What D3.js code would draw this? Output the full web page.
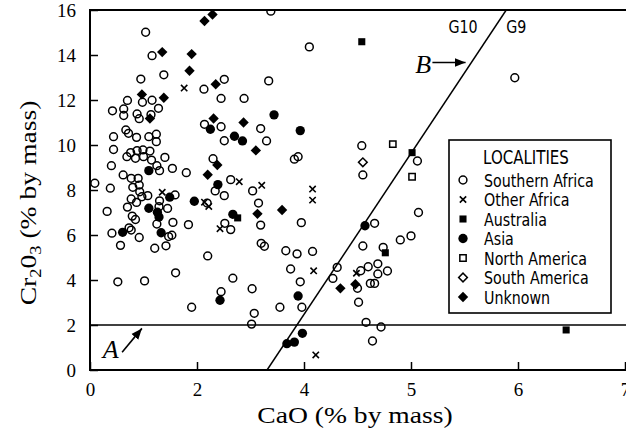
<!DOCTYPE html>
<html>
<head>
<meta charset="utf-8">
<script src="https://cdn.jsdelivr.net/npm/d3@7"></script>
<style>
  html, body { margin: 0; padding: 0; background: #fff; }
  svg { display: block; }
</style>
</head>
<body>
<svg id="chart" width="626" height="431"></svg>
<script>
// Garnet compositions: [CaO, Cr2O3] in % by mass, grouped by locality
const southernAfrica = [
  [1.04,15.01],[1.16,13.97],[1.38,13.12],[0.95,12.93],[2.13,12.48],[0.70,11.98],[1.16,11.99],
  [0.98,11.90],[1.28,11.63],[0.42,11.52],[0.63,11.60],[0.63,11.31],[0.88,11.38],[0.92,11.17],
  [1.14,11.35],[2.14,10.92],[0.67,10.67],[0.72,10.52],[0.44,10.37],[0.87,10.34],[1.10,10.37],
  [1.24,10.48],[1.24,10.15],[0.44,9.80],[0.76,9.66],[0.88,9.75],[0.99,9.78],[1.12,9.73],
  [0.69,9.48],[0.85,9.41],[1.00,9.48],[1.15,9.33],[1.40,9.45],[0.40,9.08],[1.25,9.08],
  [1.30,8.86],[1.54,8.96],[1.80,8.77],[0.62,8.67],[0.77,8.52],[0.90,8.52],[0.80,8.12],
  [0.92,8.22],[0.93,7.92],[0.09,8.30],[0.38,8.08],[1.08,7.75],[0.77,7.60],[0.97,7.70],
  [0.87,7.45],[1.30,7.52],[1.59,7.78],[1.29,7.26],[1.45,7.18],[0.70,7.24],[0.32,7.05],
  [0.79,6.84],[0.85,6.69],[1.25,6.49],[1.55,6.56],[1.84,6.46],[0.73,6.32],[0.77,6.22],
  [0.41,6.08],[0.92,5.89],[1.47,5.93],[1.53,5.99],[0.57,5.54],[1.21,5.41],[1.42,5.52],
  [2.20,5.07],[1.60,4.32],[0.52,3.92],[1.02,3.96],[1.90,2.79],[2.45,3.48],[2.67,4.08],
  [2.52,6.52],[2.63,6.24],[3.03,3.61],[3.07,2.52],[3.02,2.04],[3.15,7.42],[3.19,6.44],
  [3.20,5.63],[3.26,5.50],[3.66,5.30],[3.87,5.16],[4.08,5.27],[3.95,6.55],[3.75,4.49],
  [3.93,3.92],[3.55,2.79],[3.96,2.79],[2.45,10.81],[3.19,10.73],[2.51,10.19],[3.30,10.18],
  [2.30,9.39],[3.82,9.37],[3.89,9.48],[2.63,8.46],[2.34,7.96],[2.51,7.75],[3.04,7.96],
  [2.19,7.42],[2.51,12.92],[3.34,12.85],[2.45,12.07],[2.88,12.07],[3.38,15.95],[4.05,14.36],
  [4.55,8.67],[4.54,9.97],[5.06,9.29],[5.97,12.99],[4.66,6.52],[5.07,7.00],[4.55,5.51],
  [4.74,5.45],[4.90,5.78],[5.00,5.96],[4.31,4.56],[4.27,4.07],[4.53,4.41],[4.60,4.59],
  [4.69,4.72],[4.78,4.40],[4.69,4.27],[4.62,3.85],[4.66,3.85],[4.50,3.63],[4.51,3.01],
  [4.58,2.12],[4.72,1.91],[4.64,1.29]
];
const otherAfrica = [
  [1.76,12.53],[2.79,8.37],[3.21,8.21],[4.08,8.04],[4.08,7.55],[1.35,7.90],[2.14,7.46],
  [2.22,7.27],[2.43,6.28],[4.09,4.41],[4.11,0.67],[4.49,4.30]
];
const australia = [[4.54,14.59],[5.01,9.66],[4.76,5.21],[6.45,1.78],[2.76,6.76]];
const asia = [
  [3.44,11.34],[3.93,10.64],[2.25,10.70],[2.70,10.39],[2.85,10.18],[1.10,8.86],[2.39,8.24],
  [1.49,7.68],[1.95,7.50],[1.10,7.19],[1.26,7.01],[1.29,6.80],[1.33,6.10],[0.61,6.12],
  [2.67,6.92],[2.43,3.10],[3.89,3.29],[3.97,1.63],[3.68,1.17],[3.82,1.24],[4.57,6.41]
];
const northAmerica = [[4.83,10.04],[5.01,8.59]];
const southAmerica = [[4.55,9.23]];
const unknown = [
  [2.14,15.51],[2.29,15.80],[1.35,14.13],[1.90,14.04],[1.86,13.30],[2.35,12.70],[0.97,12.25],
  [1.38,12.10],[2.31,11.18],[1.12,11.18],[2.87,11.00],[3.10,9.76],[2.38,9.11],[2.20,8.68],
  [3.13,6.94],[3.59,7.11],[4.34,3.63],[4.48,3.81]
];

const xTicks = [0, 2, 4, 5, 6, 7];
const yTicks = [0, 2, 4, 6, 8, 10, 12, 14, 16];
const legendTitle = "LOCALITIES";

// Reference lines: Cr2O3 = 2 cut-off and the G10 / G9 boundary
const cutoffCr = 2;
const boundary = [[3.31, 0], [5.89, 16]];

const serif = "'Liberation Serif', 'DejaVu Serif', serif";
const narrow = "'Liberation Sans Narrow', 'DejaVu Sans Condensed', 'Arial Narrow', sans-serif";

const svg = d3.select("#chart");

// The CaO axis is compressed below 4 %
const x = d3.scaleLinear().domain([0, 4, 7]).range([90, 304, 625]);
const y = d3.scaleLinear().domain([0, 16]).range([370, 10]);
const right = 626;

svg.append("defs").append("clipPath").attr("id", "plot-clip")
  .append("rect").attr("x", x(0)).attr("y", y(16))
  .attr("width", right - x(0)).attr("height", y(0) - y(16));

svg.select("defs").append("marker")
  .attr("id", "arrow").attr("viewBox", "0 0 10 10")
  .attr("refX", 10).attr("refY", 5)
  .attr("markerWidth", 11).attr("markerHeight", 11)
  .attr("markerUnits", "userSpaceOnUse")
  .attr("orient", "auto")
  .append("path").attr("d", "M0,1 L10,5 L0,9 Z").attr("fill", "#000");

// Axes with inward ticks
const gx = svg.append("g").attr("transform", `translate(0,${y(0)})`)
  .call(d3.axisBottom(x).tickValues(xTicks).tickSizeInner(-8).tickSizeOuter(0)
    .tickPadding(13).tickFormat(d3.format("d")));
const gy = svg.append("g").attr("transform", `translate(${x(0)},0)`)
  .call(d3.axisLeft(y).tickValues(yTicks).tickSizeInner(-8).tickSizeOuter(0)
    .tickPadding(14).tickFormat(d3.format("d")));
[gx, gy].forEach(g => {
  g.select(".domain").remove();
  g.selectAll(".tick line").attr("stroke", "#000").attr("stroke-width", 1.5);
  g.selectAll(".tick text").attr("fill", "#000")
    .style("font-family", serif).style("font-size", "19px");
});

// Plot frame (open on the right)
svg.append("path")
  .attr("d", `M${right},${y(16)} H${x(0)} V${y(0)} H${right}`)
  .attr("fill", "none").attr("stroke", "#000").attr("stroke-width", 2);

const plot = svg.append("g").attr("clip-path", "url(#plot-clip)");

plot.append("line")
  .attr("x1", x(0)).attr("x2", right)
  .attr("y1", y(cutoffCr)).attr("y2", y(cutoffCr))
  .attr("stroke", "#000").attr("stroke-width", 1.6);

plot.append("path")
  .attr("d", d3.line().x(d => x(d[0])).y(d => y(d[1]))(boundary))
  .attr("fill", "none").attr("stroke", "#000").attr("stroke-width", 1.5);

// Marker styles per locality
const diamond = d3.symbolSquare;
const series = [
  { name: "Southern Africa", data: southernAfrica, type: d3.symbolCircle, size: 48, fill: "none", stroke: 1.5 },
  { name: "Other Africa", data: otherAfrica, type: d3.symbolTimes, size: 28, fill: "none", stroke: 1.6 },
  { name: "Australia", data: australia, type: d3.symbolSquare, size: 50, fill: "#000", stroke: 0 },
  { name: "Asia", data: asia, type: d3.symbolCircle, size: 68, fill: "#000", stroke: 0 },
  { name: "North America", data: northAmerica, type: d3.symbolSquare, size: 40, fill: "none", stroke: 1.5 },
  { name: "South America", data: southAmerica, type: diamond, size: 38, fill: "none", stroke: 1.5, rotate: 45 },
  { name: "Unknown", data: unknown, type: diamond, size: 54, fill: "#000", stroke: 0, rotate: 45 }
];

function drawSymbol(g, s, cx, cy) {
  g.append("path")
    .attr("d", d3.symbol().type(s.type).size(s.size)())
    .attr("transform", `translate(${cx},${cy})` + (s.rotate ? ` rotate(${s.rotate})` : ""))
    .attr("fill", s.fill)
    .attr("stroke", s.stroke ? "#000" : "none")
    .attr("stroke-width", s.stroke);
}

series.forEach(s => {
  const g = plot.append("g").attr("class", "series");
  s.data.forEach(d => drawSymbol(g, s, x(d[0]), y(d[1])));
});

// Condensed sans labels
function narrowText(g, tx, ty, str, size, anchor) {
  return g.append("text")
    .attr("transform", `translate(${tx},${ty}) scale(0.88,1)`)
    .attr("text-anchor", anchor || "start")
    .style("font-family", narrow).style("font-size", size + "px")
    .text(str);
}

// Boundary labels
narrowText(svg, x(5.35), 33, "G10", 18);
narrowText(svg, x(5.89), 33, "G9", 18);

// Annotations A and B with arrows
svg.append("text").attr("x", x(5.04)).attr("y", 73)
  .style("font-family", serif).style("font-style", "italic").style("font-size", "26px")
  .text("B");
svg.append("line")
  .attr("x1", x(5.2)).attr("y1", y(13.67)).attr("x2", x(5.51)).attr("y2", y(13.67))
  .attr("stroke", "#000").attr("stroke-width", 1.6).attr("marker-end", "url(#arrow)");
svg.append("text").attr("x", x(0.24)).attr("y", 358)
  .style("font-family", serif).style("font-style", "italic").style("font-size", "26px")
  .text("A");
svg.append("line")
  .attr("x1", x(0.6)).attr("y1", y(0.79)).attr("x2", x(0.97)).attr("y2", y(1.85))
  .attr("stroke", "#000").attr("stroke-width", 1.6).attr("marker-end", "url(#arrow)");

// Legend
const lg = svg.append("g");
lg.append("rect").attr("x", 449).attr("y", 140).attr("width", 162).attr("height", 173)
  .attr("fill", "#fff").attr("stroke", "#000").attr("stroke-width", 1.6);
narrowText(lg, 526, 164, legendTitle, 19, "middle");
series.forEach((s, i) => {
  const by = 186.5 + i * 19.5;
  drawSymbol(lg, s, 463, by - 6.5);
  narrowText(lg, 484, by, s.name, 18);
});

// Axis titles (serif, slightly widened)
svg.append("text").attr("transform", "translate(355,423) scale(1.15,1)")
  .attr("text-anchor", "middle")
  .style("font-family", serif).style("font-size", "24px")
  .text("CaO (% by mass)");

const yt = svg.append("text")
  .attr("transform", "translate(36,203) rotate(-90) scale(1.15,1)")
  .attr("text-anchor", "middle")
  .style("font-family", serif).style("font-size", "24px");
yt.append("tspan").text("Cr");
yt.append("tspan").attr("dy", 5).style("font-size", "16px").text("2");
yt.append("tspan").attr("dy", -5).text("0");
yt.append("tspan").attr("dy", 5).style("font-size", "16px").text("3");
yt.append("tspan").attr("dy", -5).text(" (% by mass)");
</script>
</body>
</html>
